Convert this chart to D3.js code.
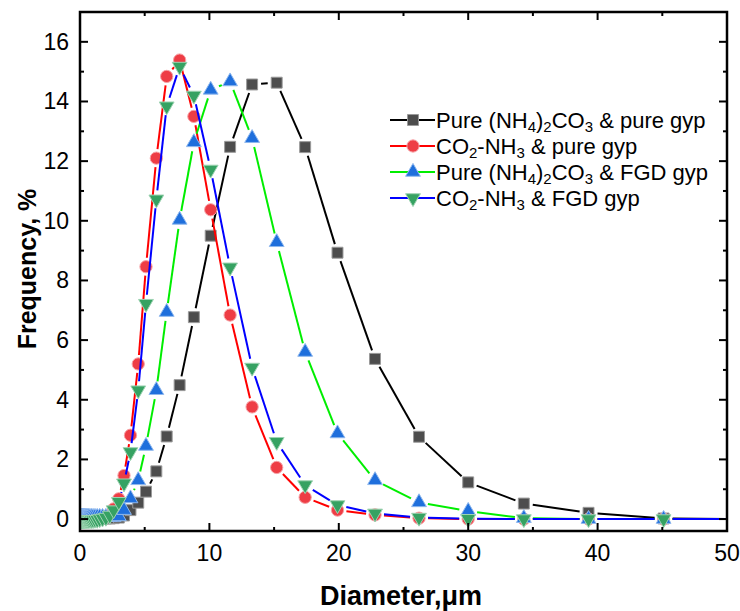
<!DOCTYPE html>
<html>
<head>
<meta charset="utf-8">
<script src="https://cdn.jsdelivr.net/npm/d3@7/dist/d3.min.js"></script>
<style>
  html, body { margin: 0; padding: 0; background: #fff; }
  svg { display: block; font-family: "Liberation Sans", Arial, sans-serif; }
</style>
</head>
<body>
<svg id="chart" width="740" height="611"></svg>
<script>
// Particle size bins (µm), shared by all four distributions
const diameters = [0.10, 0.115, 0.13, 0.15, 0.17, 0.20, 0.23, 0.26, 0.30, 0.34,
  0.39, 0.45, 0.51, 0.59, 0.67, 0.77, 0.88, 1.01, 1.16, 1.33,
  1.52, 1.74, 2.0, 2.3, 2.6, 3.0, 3.4, 3.9, 4.5, 5.1,
  5.9, 6.7, 7.7, 8.8, 10.1, 11.6, 13.3, 15.2, 17.4, 19.9,
  22.8, 26.2, 30.0, 34.3, 39.3, 45.1, 51.6];

// Frequency (%) per bin
const pureCarbPureGyp = [0.02, 0.02, 0.02, 0.02, 0.02, 0.02, 0.02, 0.02, 0.02, 0.02,
  0.02, 0.02, 0.02, 0.02, 0.02, 0.02, 0.02, 0.02, 0.02, 0.02,
  0.02, 0.02, 0.02, 0.02, 0.03, 0.05, 0.12, 0.3, 0.55, 0.92,
  1.6, 2.77, 4.49, 6.77, 9.5, 12.48, 14.57, 14.63, 12.47, 8.93,
  5.37, 2.76, 1.23, 0.52, 0.21, 0.02, 0.0];
const co2nh3PureGyp = [0.02, 0.02, 0.02, 0.02, 0.02, 0.02, 0.02, 0.02, 0.02, 0.02,
  0.02, 0.02, 0.02, 0.02, 0.02, 0.02, 0.02, 0.02, 0.02, 0.03,
  0.04, 0.05, 0.08, 0.15, 0.34, 0.68, 1.46, 2.81, 5.2, 8.46,
  12.1, 14.84, 15.39, 13.5, 10.37, 6.84, 3.76, 1.73, 0.73, 0.3,
  0.14, 0.03, 0.0, 0.0, 0.0, 0.0, 0.0];
const pureCarbFgdGyp = [0.07, 0.07, 0.07, 0.07, 0.07, 0.07, 0.07, 0.07, 0.07, 0.07,
  0.07, 0.07, 0.07, 0.07, 0.07, 0.07, 0.07, 0.07, 0.07, 0.07,
  0.07, 0.07, 0.07, 0.07, 0.07, 0.09, 0.3, 0.69, 1.3, 2.45,
  4.32, 6.94, 10.03, 12.63, 14.39, 14.67, 12.77, 9.28, 5.6, 2.87,
  1.3, 0.56, 0.27, 0.03, 0.0, 0.0, 0.0];
const co2nh3FgdGyp = [-0.03, -0.03, -0.03, -0.03, -0.03, -0.03, -0.03, -0.03, -0.03, -0.03,
  -0.03, -0.03, -0.03, -0.03, -0.03, -0.03, -0.03, -0.03, -0.02, -0.02,
  0.0, 0.02, 0.05, 0.12, 0.3, 0.58, 1.2, 2.25, 4.32, 7.22,
  10.72, 13.84, 15.17, 14.2, 11.72, 8.44, 5.08, 2.59, 1.14, 0.47,
  0.19, 0.05, 0.01, 0.0, 0.0, 0.0, 0.0];

const xTicks = [0, 10, 20, 30, 40, 50];
const yTicks = [0, 2, 4, 6, 8, 10, 12, 14, 16];

const series = [
  { parts: [["Pure (NH", ""], ["4", "sub"], [")", ""], ["2", "sub"], ["CO", ""], ["3", "sub"], [" & pure gyp", ""]],
    values: pureCarbPureGyp, line: "#000000", fill: "#4d4d4d", edge: "#9a9a9a", shape: "square" },
  { parts: [["CO", ""], ["2", "sub"], ["-NH", ""], ["3", "sub"], [" & pure gyp", ""]],
    values: co2nh3PureGyp, line: "#ff0000", fill: "#ee3d45", edge: "#f7a0a4", shape: "circle" },
  { parts: [["Pure (NH", ""], ["4", "sub"], [")", ""], ["2", "sub"], ["CO", ""], ["3", "sub"], [" & FGD gyp", ""]],
    values: pureCarbFgdGyp, line: "#00ee00", fill: "#1f6fdc", edge: "#8fb8ee", shape: "triangle" },
  { parts: [["CO", ""], ["2", "sub"], ["-NH", ""], ["3", "sub"], [" & FGD gyp", ""]],
    values: co2nh3FgdGyp, line: "#0000ff", fill: "#36a262", edge: "#9ed3b2", shape: "invtriangle" }
];

const plotL = 80, plotR = 727, plotT = 12, plotB = 531;
const x = d3.scaleLinear().domain([0, 50]).range([plotL, plotR]);
const y = d3.scaleLinear().domain([-0.4, 17]).range([plotB, plotT]);

const svg = d3.select("#chart");

svg.append("defs").append("clipPath").attr("id", "plotClip")
  .append("rect").attr("x", plotL).attr("y", plotT)
  .attr("width", plotR - plotL).attr("height", plotB - plotT);

function markerPath(shape) {
  const sym = {
    square: d3.symbol(d3.symbolSquare, 120),
    circle: d3.symbol(d3.symbolCircle, 118),
    triangle: d3.symbol(d3.symbolTriangle, 95),
    invtriangle: d3.symbol(d3.symbolTriangle, 95)
  }[shape];
  return sym();
}

const plot = svg.append("g").attr("clip-path", "url(#plotClip)");
const gap = 9;

series.forEach(s => {
  const pts = diameters.map((d, i) => [x(d), y(s.values[i])]);
  const segs = [];
  for (let i = 0; i < pts.length - 1; i++) {
    const [x0, y0] = pts[i], [x1, y1] = pts[i + 1];
    const L = Math.hypot(x1 - x0, y1 - y0);
    if (L <= 2 * gap) continue;
    const ux = (x1 - x0) / L, uy = (y1 - y0) / L;
    segs.push([x0 + ux * gap, y0 + uy * gap, x1 - ux * gap, y1 - uy * gap]);
  }
  const g = plot.append("g");
  g.selectAll("line").data(segs).join("line")
    .attr("x1", d => d[0]).attr("y1", d => d[1])
    .attr("x2", d => d[2]).attr("y2", d => d[3])
    .attr("stroke", s.line).attr("stroke-width", 2);
  g.selectAll("path").data(pts).join("path")
    .attr("d", markerPath(s.shape))
    .attr("transform", d => `translate(${d[0]},${d[1]})` + (s.shape === "invtriangle" ? " rotate(180)" : ""))
    .attr("fill", s.fill).attr("stroke", s.edge).attr("stroke-width", 1);
});

// Frame
svg.append("rect").attr("x", plotL).attr("y", plotT)
  .attr("width", plotR - plotL).attr("height", plotB - plotT)
  .attr("fill", "none").attr("stroke", "#000").attr("stroke-width", 2.5);

// Ticks (inward, mirrored on all four sides)
const axes = svg.append("g").attr("stroke", "#000").attr("stroke-width", 2);
const xMinor = [5, 15, 25, 35, 45];
const yMinor = [1, 3, 5, 7, 9, 11, 13, 15];
xTicks.forEach(v => {
  axes.append("line").attr("x1", x(v)).attr("x2", x(v)).attr("y1", plotB).attr("y2", plotB - 8);
  axes.append("line").attr("x1", x(v)).attr("x2", x(v)).attr("y1", plotT).attr("y2", plotT + 8);
});
xMinor.forEach(v => {
  axes.append("line").attr("x1", x(v)).attr("x2", x(v)).attr("y1", plotB).attr("y2", plotB - 4);
  axes.append("line").attr("x1", x(v)).attr("x2", x(v)).attr("y1", plotT).attr("y2", plotT + 4);
});
yTicks.forEach(v => {
  axes.append("line").attr("x1", plotL).attr("x2", plotL + 8).attr("y1", y(v)).attr("y2", y(v));
  axes.append("line").attr("x1", plotR).attr("x2", plotR - 8).attr("y1", y(v)).attr("y2", y(v));
});
yMinor.forEach(v => {
  axes.append("line").attr("x1", plotL).attr("x2", plotL + 4).attr("y1", y(v)).attr("y2", y(v));
  axes.append("line").attr("x1", plotR).attr("x2", plotR - 4).attr("y1", y(v)).attr("y2", y(v));
});

// Tick labels
svg.append("g").selectAll("text").data(xTicks).join("text")
  .attr("x", d => x(d)).attr("y", 561)
  .attr("text-anchor", "middle").attr("font-size", 23).attr("fill", "#000")
  .text(d => d);
svg.append("g").selectAll("text").data(yTicks).join("text")
  .attr("x", 69).attr("y", d => y(d) + 8)
  .attr("text-anchor", "end").attr("font-size", 23).attr("fill", "#000")
  .text(d => d);

// Axis titles
svg.append("text").attr("x", 401).attr("y", 605)
  .attr("text-anchor", "middle").attr("font-size", 27).attr("font-weight", "bold")
  .text("Diameter,μm");
svg.append("text").attr("transform", "translate(36,269) rotate(-90)")
  .attr("text-anchor", "middle").attr("font-size", 25).attr("font-weight", "bold")
  .text("Frequency, %");

// Legend
const legend = svg.append("g");
const rowY = [120, 146, 172, 198];
series.forEach((s, i) => {
  const ly = rowY[i];
  legend.append("line").attr("x1", 390).attr("x2", 435).attr("y1", ly).attr("y2", ly)
    .attr("stroke", s.line).attr("stroke-width", 2);
  legend.append("path").attr("d", markerPath(s.shape))
    .attr("transform", `translate(413,${ly})` + (s.shape === "invtriangle" ? " rotate(180)" : ""))
    .attr("fill", s.fill).attr("stroke", s.edge).attr("stroke-width", 1);
  const t = legend.append("text").attr("x", 436).attr("y", ly + 8).attr("font-size", 22);
  let prevSub = false;
  s.parts.forEach(([txt, kind]) => {
    const sp = t.append("tspan").text(txt);
    if (kind === "sub") {
      sp.attr("font-size", 15).attr("dy", prevSub ? 0 : 4);
      prevSub = true;
    } else {
      if (prevSub) sp.attr("dy", -4);
      prevSub = false;
    }
  });
});
</script>
</body>
</html>
